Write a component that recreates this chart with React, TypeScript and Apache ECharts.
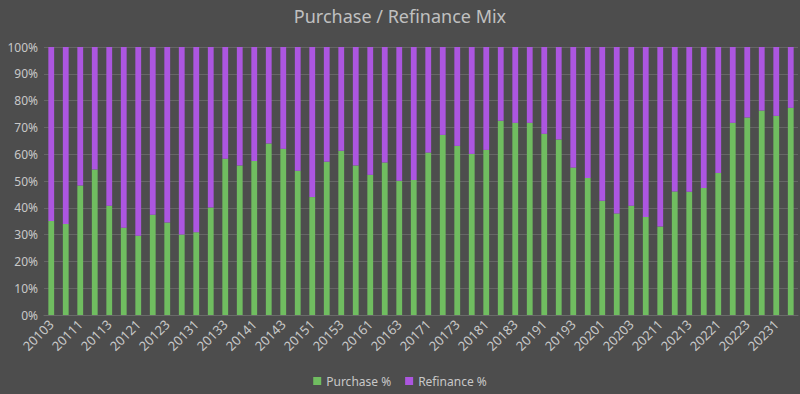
import React, { useEffect, useRef } from "react";
import * as echarts from "echarts";

const quarters: string[] = [
  "20103", "20104",
  "20111", "20112", "20113", "20114",
  "20121", "20122", "20123", "20124",
  "20131", "20132", "20133", "20134",
  "20141", "20142", "20143", "20144",
  "20151", "20152", "20153", "20154",
  "20161", "20162", "20163", "20164",
  "20171", "20172", "20173", "20174",
  "20181", "20182", "20183", "20184",
  "20191", "20192", "20193", "20194",
  "20201", "20202", "20203", "20204",
  "20211", "20212", "20213", "20214",
  "20221", "20222", "20223", "20224",
  "20231", "20232",
];

const purchasePct: number[] = [
  35.1, 34.0, 48.3, 54.3, 40.8, 32.6, 29.6, 37.4, 34.5, 30.0,
  30.9, 40.1, 58.3, 55.8, 57.5, 64.0, 62.0, 53.8, 44.0, 57.2,
  61.3, 55.8, 52.3, 56.9, 50.1, 50.4, 60.6, 67.2, 63.1, 60.1,
  61.6, 72.5, 71.7, 71.7, 67.6, 65.5, 55.0, 51.1, 42.6, 37.9,
  40.8, 36.6, 33.0, 46.1, 46.0, 47.4, 53.0, 71.7, 73.7, 76.3,
  74.3, 77.3,
];

const refinancePct: number[] = [
  64.9, 66.0, 51.7, 45.7, 59.2, 67.4, 70.4, 62.6, 65.5, 70.0,
  69.1, 59.9, 41.7, 44.2, 42.5, 36.0, 38.0, 46.2, 56.0, 42.8,
  38.7, 44.2, 47.7, 43.1, 49.9, 49.6, 39.4, 32.8, 36.9, 39.9,
  38.4, 27.5, 28.3, 28.3, 32.4, 34.5, 45.0, 48.9, 57.4, 62.1,
  59.2, 63.4, 67.0, 53.9, 54.0, 52.6, 47.0, 28.3, 26.3, 23.7,
  25.7, 22.7,
];

const FONT = "'Noto Sans', 'Open Sans', sans-serif";
const TEXT = "#c8c8c8";

export default function App() {
  const ref = useRef<HTMLDivElement>(null);
  useEffect(() => {
    if (!ref.current) return;
    const chart = echarts.init(ref.current, undefined, { renderer: "svg" });
    chart.setOption({
      animation: false,
      backgroundColor: "#4d4d4d",
      title: {
        text: "Purchase / Refinance Mix",
        left: "center",
        top: 2,
        textStyle: { color: "#c0c0c0", fontSize: 18, fontWeight: "normal", fontFamily: FONT },
      },
      legend: {
        bottom: 2,
        left: "center",
        itemWidth: 8,
        itemHeight: 8,
        itemGap: 14,
        icon: "rect",
        textStyle: { color: TEXT, fontSize: 12, fontFamily: FONT },
        data: ["Purchase %", "Refinance %"],
      },
      grid: { left: 44, right: 2, top: 47, bottom: 79, containLabel: false },
      xAxis: {
        type: "category",
        data: quarters,
        axisLine: { lineStyle: { color: "#6a6a6a" } },
        axisTick: { show: false },
        axisLabel: {
          interval: 1,
          rotate: 45,
          color: TEXT,
          fontSize: 13,
          fontFamily: FONT,
          margin: 7,
        },
      },
      yAxis: {
        type: "value",
        min: 0,
        max: 100,
        interval: 10,
        axisLabel: { formatter: "{value}%", color: TEXT, fontSize: 12, fontFamily: FONT, margin: 6 },
        splitLine: { lineStyle: { color: "#666666" } },
        axisLine: { show: false },
        axisTick: { show: false },
      },
      series: [
        {
          name: "Purchase %",
          type: "bar",
          stack: "mix",
          data: purchasePct,
          barWidth: "40%",
          itemStyle: { color: "#70bd60" },
        },
        {
          name: "Refinance %",
          type: "bar",
          stack: "mix",
          data: refinancePct,
          barWidth: "40%",
          itemStyle: { color: "#ac56e0" },
        },
      ],
    });
    return () => chart.dispose();
  }, []);
  return <div ref={ref} style={{ width: 800, height: 394, position: "absolute", left: 0, top: 0 }} />;
}
